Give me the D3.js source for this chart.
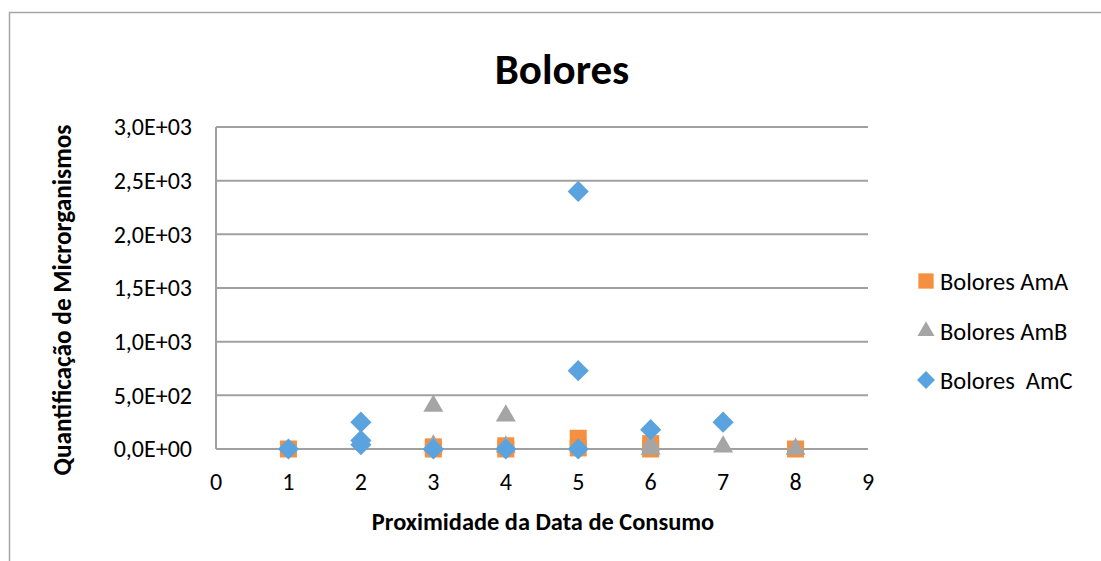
<!DOCTYPE html>
<html>
<head>
<meta charset="utf-8">
<script src="https://cdn.jsdelivr.net/npm/d3@7"></script>
<style>
  html, body { margin: 0; padding: 0; background: #fff; }
  svg { display: block; }
  text { font-family: Carlito, Calibri, Lato, sans-serif; fill: #000; }
</style>
</head>
<body>
<svg id="chart" width="1101" height="561"></svg>
<script>
// Bolores counts per sample, by proximity to the consumption date
const amAX = [1, 3, 3, 4, 4, 5, 5, 6, 6, 8];
const amAY = [0, 20, 0, 30, 0, 100, 10, 50, 0, 0];
const amBX = [3, 3, 4, 4, 6, 6, 7, 8];
const amBY = [400, 30, 310, 20, 40, 0, 20, 0];
const amCX = [1, 2, 2, 2, 3, 4, 5, 5, 5, 6, 7];
const amCY = [0, 250, 80, 40, 0, 0, 2400, 730, 0, 180, 250];

const xTicks = [0, 1, 2, 3, 4, 5, 6, 7, 8, 9];
const yTicks = [0, 500, 1000, 1500, 2000, 2500, 3000];
const yTickLabels = ["0,0E+00", "5,0E+02", "1,0E+03", "1,5E+03", "2,0E+03", "2,5E+03", "3,0E+03"];
const seriesNames = ["Bolores AmA", "Bolores AmB", "Bolores  AmC"];

const colors = ["#F4903F", "#A5A5A5", "#5BA3DE"];
const svg = d3.select("#chart");

// outer chart frame
svg.append("rect")
  .attr("x", 9.5).attr("y", 12.5)
  .attr("width", 1200).attr("height", 700)
  .attr("fill", "none").attr("stroke", "#a6a6a6").attr("stroke-width", 1.5);

const x = d3.scaleLinear().domain([0, 9]).range([216, 868]);
const y = d3.scaleLinear().domain([0, 3000]).range([449, 127]);

// horizontal gridlines
svg.append("g").selectAll("line").data(yTicks).join("line")
  .attr("x1", x(0)).attr("x2", x(9))
  .attr("y1", d => y(d)).attr("y2", d => y(d))
  .attr("stroke", "#a0a0a0").attr("stroke-width", 2);

// vertical axis line
svg.append("line")
  .attr("x1", x(0)).attr("x2", x(0))
  .attr("y1", y(3000)).attr("y2", y(0))
  .attr("stroke", "#a0a0a0").attr("stroke-width", 2);

// y tick labels
svg.append("g").selectAll("text").data(yTicks).join("text")
  .attr("x", 192).attr("y", d => y(d))
  .attr("dy", "0.35em")
  .attr("text-anchor", "end")
  .attr("font-size", 24)
  .text((d, i) => yTickLabels[i]);

// x tick labels
svg.append("g").selectAll("text").data(xTicks).join("text")
  .attr("x", d => x(d)).attr("y", 482)
  .attr("dy", "0.35em")
  .attr("text-anchor", "middle")
  .attr("font-size", 24)
  .text(d => d);

// title
svg.append("text")
  .attr("x", 562).attr("y", 84)
  .attr("text-anchor", "middle")
  .attr("font-size", 43).attr("font-weight", "bold")
  .text("Bolores");

// axis titles
svg.append("text")
  .attr("x", 543).attr("y", 521).attr("dy", "0.35em")
  .attr("text-anchor", "middle")
  .attr("font-size", 24.4).attr("font-weight", "bold")
  .text("Proximidade da Data de Consumo");

svg.append("text")
  .attr("transform", "translate(62,300) rotate(-90)")
  .attr("dy", "0.35em")
  .attr("text-anchor", "middle")
  .attr("font-size", 25.3).attr("font-weight", "bold")
  .text("Quantificação de Microrganismos");

// marker shapes
const squarePath = d3.symbol().type(d3.symbolSquare).size(289)();
const trianglePath = d3.symbol().type(d3.symbolTriangle).size(173)();
const diamondPath = d3.symbol().type(d3.symbolSquare).size(225)();
const shapes = [
  { path: squarePath, rot: 0 },
  { path: trianglePath, rot: 0 },
  { path: diamondPath, rot: 45 }
];

const series = [
  { xs: amAX, ys: amAY },
  { xs: amBX, ys: amBY },
  { xs: amCX, ys: amCY }
];

series.forEach((s, si) => {
  const pts = s.xs.map((v, i) => [v, s.ys[i]]);
  svg.append("g").selectAll("path").data(pts).join("path")
    .attr("d", shapes[si].path)
    .attr("transform", d => `translate(${x(d[0])},${y(d[1])}) rotate(${shapes[si].rot})`)
    .attr("fill", colors[si]);
});

// legend
const legendY = [281, 331, 380];
const lg = svg.append("g");
seriesNames.forEach((name, i) => {
  const sc = i === 0 ? 0.9 : 0.85;
  lg.append("path")
    .attr("d", shapes[i].path)
    .attr("transform", `translate(926,${legendY[i]}) rotate(${shapes[i].rot}) scale(${sc})`)
    .attr("fill", colors[i]);
  lg.append("text")
    .attr("x", 940).attr("y", legendY[i])
    .attr("dy", "0.35em")
    .attr("font-size", 24.5)
    .attr("xml:space", "preserve")
    .style("white-space", "pre")
    .text(name);
});
</script>
</body>
</html>
